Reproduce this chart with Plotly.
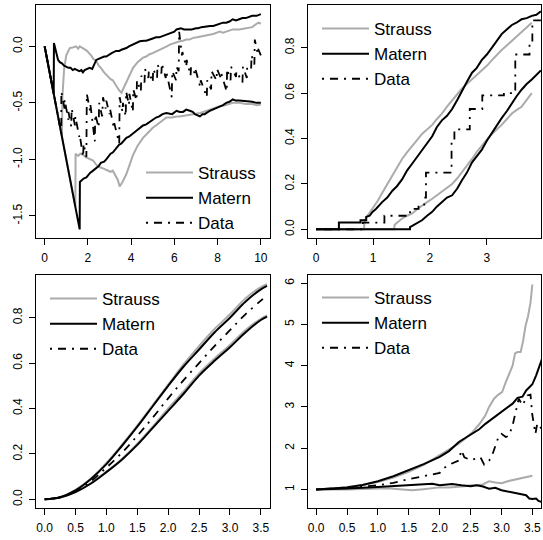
import plotly.graph_objects as go

# ---------------- data ----------------
# Panel 1 (top-left): L(r) - r
tl_mat_hi_x = [0, 0.42, 0.43, 0.50, 0.55, 0.62, 0.70, 0.80, 0.90, 1.0, 1.1, 1.2, 1.3, 1.39, 1.5, 1.6, 1.7, 1.77, 1.85, 1.95, 2.08, 2.2, 2.3, 2.39, 2.5, 2.6, 2.75, 2.85, 3.0, 3.1, 3.3, 3.45, 3.55, 3.78, 3.9, 4.1, 4.25, 4.4, 4.6, 4.7, 5.0, 5.15, 5.3, 5.45, 5.6, 5.85, 6.0, 6.1, 6.3, 6.45, 6.56, 6.8, 7.0, 7.1, 7.25, 7.5, 7.65, 7.8, 8.1, 8.25, 8.4, 8.55, 8.7, 8.85, 9.0, 9.15, 9.3, 9.45, 9.6, 9.8, 9.9, 10]
tl_mat_hi_y = [0, -0.42, 0.03, -0.03, -0.06, -0.12, -0.14, -0.15, -0.17, -0.18, -0.19, -0.19, -0.21, -0.2, -0.21, -0.22, -0.21, -0.23, -0.21, -0.2, -0.19, -0.2, -0.16, -0.12, -0.11, -0.1, -0.09, -0.09, -0.07, -0.06, -0.04, -0.04, -0.03, -0.015, 0.0, 0.02, 0.03, 0.045, 0.05, 0.05, 0.07, 0.08, 0.08, 0.09, 0.1, 0.12, 0.13, 0.15, 0.16, 0.15, 0.15, 0.15, 0.16, 0.16, 0.17, 0.18, 0.18, 0.18, 0.2, 0.21, 0.21, 0.22, 0.24, 0.23, 0.24, 0.25, 0.25, 0.26, 0.27, 0.27, 0.28, 0.285]

tl_mat_lo_x = [0, 1.62, 1.63, 1.7, 1.8, 1.93, 2.0, 2.1, 2.24, 2.4, 2.5, 2.6, 2.75, 2.85, 3.05, 3.15, 3.3, 3.45, 3.55, 3.78, 3.9, 4.1, 4.25, 4.4, 4.55, 4.7, 5.0, 5.15, 5.3, 5.45, 5.63, 5.8, 5.9, 6.1, 6.25, 6.4, 6.55, 6.71, 6.85, 6.95, 7.18, 7.3, 7.4, 7.64, 7.9, 8.1, 8.25, 8.4, 8.55, 8.7, 8.85, 9.0, 9.3, 9.45, 9.6, 9.8, 10]
tl_mat_lo_y = [0, -1.62, -1.2, -1.19, -1.17, -1.16, -1.14, -1.12, -1.1, -1.08, -1.06, -1.03, -1.02, -1.0, -0.95, -0.94, -0.9, -0.87, -0.86, -0.81, -0.8, -0.77, -0.74, -0.72, -0.7, -0.69, -0.65, -0.63, -0.62, -0.6, -0.59, -0.6, -0.6, -0.57, -0.58, -0.58, -0.56, -0.57, -0.58, -0.6, -0.62, -0.6, -0.6, -0.57, -0.55, -0.53, -0.52, -0.5, -0.49, -0.47, -0.48, -0.48, -0.485, -0.49, -0.49, -0.5, -0.5]

tl_str_hi_x = [0, 0.8, 0.82, 0.86, 0.9, 1.0, 1.08, 1.16, 1.3, 1.45, 1.55, 1.62, 1.8, 1.96, 2.05, 2.15, 2.25, 2.39, 2.5, 2.6, 2.75, 2.85, 3.05, 3.15, 3.3, 3.45, 3.55, 3.65, 3.78, 3.95, 4.09, 4.3, 4.55, 4.7, 4.85, 5.0, 5.17, 5.35, 5.5, 5.65, 5.79, 6.0, 6.25, 6.4, 6.55, 6.7, 6.87, 7.05, 7.2, 7.35, 7.5, 7.8, 8.1, 8.25, 8.4, 8.55, 8.7, 9.0, 9.3, 9.45, 9.6, 9.8, 9.9, 10]
tl_str_hi_y = [0, -0.8, -0.45, -0.3, -0.2, -0.08, -0.04, -0.015, -0.01, 0.0, -0.02, 0.0, -0.02, -0.04, -0.06, -0.08, -0.11, -0.13, -0.17, -0.19, -0.23, -0.25, -0.29, -0.3, -0.35, -0.39, -0.41, -0.37, -0.31, -0.24, -0.19, -0.14, -0.1, -0.09, -0.07, -0.06, -0.045, -0.03, -0.02, 0.0, 0.015, 0.03, 0.045, 0.05, 0.06, 0.06, 0.075, 0.08, 0.085, 0.09, 0.1, 0.11, 0.13, 0.12, 0.13, 0.14, 0.15, 0.15, 0.16, 0.16, 0.17, 0.2, 0.21, 0.2]

tl_str_lo_x = [0, 1.42, 1.43, 1.55, 1.65, 1.77, 1.9, 2.0, 2.1, 2.24, 2.4, 2.55, 2.7, 2.85, 2.95, 3.05, 3.15, 3.24, 3.38, 3.47, 3.6, 3.78, 3.95, 4.09, 4.3, 4.55, 4.8, 5.0, 5.15, 5.3, 5.45, 5.63, 5.9, 6.1, 6.25, 6.55, 6.87, 7.2, 7.5, 7.8, 8.1, 8.4, 8.7, 9.0, 9.3, 9.6, 9.8, 10]
tl_str_lo_y = [0, -1.42, -0.95, -0.97, -0.95, -0.96, -0.98, -0.99, -1.0, -1.01, -1.05, -1.07, -1.08, -1.09, -1.1, -1.11, -1.1, -1.13, -1.18, -1.24, -1.2, -1.13, -1.03, -0.96, -0.88, -0.81, -0.76, -0.72, -0.7, -0.68, -0.66, -0.63, -0.63, -0.62, -0.62, -0.61, -0.6, -0.59, -0.57, -0.55, -0.53, -0.52, -0.5, -0.5, -0.51, -0.51, -0.52, -0.515]

tl_dat_x = [0, 0.77, 0.77, 0.92, 0.92, 1.10, 1.10, 1.23, 1.25, 1.40, 1.42, 1.60, 1.62, 1.78, 1.80, 1.93, 1.95, 2.10, 2.12, 2.32, 2.34, 2.50, 2.52, 2.66, 2.70, 2.82, 2.85, 3.00, 3.02, 3.20, 3.22, 3.45, 3.47, 3.60, 3.62, 3.75, 3.77, 3.90, 3.92, 4.08, 4.10, 4.25, 4.27, 4.45, 4.47, 4.62, 4.64, 4.80, 4.82, 5.00, 5.02, 5.20, 5.22, 5.40, 5.42, 5.60, 5.62, 5.88, 5.90, 6.08, 6.10, 6.20, 6.22, 6.35, 6.37, 6.55, 6.57, 6.75, 6.77, 6.95, 6.97, 7.20, 7.22, 7.50, 7.52, 7.70, 7.72, 7.95, 7.97, 8.15, 8.17, 8.42, 8.44, 8.60, 8.62, 8.85, 8.87, 9.15, 9.17, 9.35, 9.37, 9.55, 9.57, 9.70, 9.72, 9.85, 9.87, 10.0]
tl_dat_y = [0, -0.77, -0.40, -0.55, -0.47, -0.65, -0.58, -0.71, -0.55, -0.70, -0.62, -0.80, -0.78, -0.98, -0.86, -0.98, -0.42, -0.57, -0.52, -0.84, -0.60, -0.72, -0.50, -0.62, -0.45, -0.55, -0.48, -0.60, -0.55, -0.72, -0.68, -0.86, -0.45, -0.58, -0.50, -0.62, -0.40, -0.52, -0.42, -0.58, -0.38, -0.48, -0.30, -0.40, -0.26, -0.32, -0.20, -0.28, -0.22, -0.32, -0.20, -0.28, -0.16, -0.24, -0.15, -0.28, -0.22, -0.45, -0.22, -0.30, -0.18, -0.22, 0.13, -0.08, -0.05, -0.18, -0.12, -0.26, -0.18, -0.24, -0.20, -0.36, -0.30, -0.45, -0.30, -0.38, -0.22, -0.30, -0.20, -0.28, -0.24, -0.40, -0.20, -0.30, -0.18, -0.27, -0.22, -0.32, -0.18, -0.28, -0.18, -0.20, -0.08, -0.16, 0.06, -0.06, -0.02, -0.08]

# Panel 2 (top-right): G function
tr_mat_hi_x = [0, 0.40, 0.40, 0.78, 0.78, 0.88, 0.88, 0.94, 0.99, 1.05, 1.16, 1.25, 1.34, 1.42, 1.51, 1.60, 1.69, 1.78, 1.86, 1.95, 2.04, 2.12, 2.21, 2.30, 2.39, 2.48, 2.56, 2.65, 2.74, 2.82, 2.91, 3.0, 3.09, 3.18, 3.26, 3.35, 3.44, 3.52, 3.61, 3.70, 3.79, 3.87, 3.95]
tr_mat_hi_y = [0, 0.0, 0.03, 0.03, 0.04, 0.04, 0.055, 0.06, 0.077, 0.09, 0.12, 0.14, 0.17, 0.19, 0.22, 0.26, 0.29, 0.32, 0.345, 0.38, 0.41, 0.45, 0.48, 0.50, 0.53, 0.57, 0.61, 0.65, 0.69, 0.71, 0.745, 0.77, 0.80, 0.83, 0.86, 0.88, 0.90, 0.91, 0.925, 0.93, 0.94, 0.945, 0.96]
tr_mat_lo_x = [0, 1.65, 1.65, 1.69, 1.78, 1.86, 1.95, 2.04, 2.12, 2.21, 2.30, 2.39, 2.48, 2.56, 2.65, 2.74, 2.82, 2.91, 3.0, 3.09, 3.18, 3.26, 3.35, 3.44, 3.52, 3.61, 3.70, 3.79, 3.87, 3.95]
tr_mat_lo_y = [0, 0.0, 0.01, 0.015, 0.03, 0.04, 0.06, 0.077, 0.10, 0.12, 0.14, 0.15, 0.18, 0.215, 0.25, 0.295, 0.32, 0.35, 0.39, 0.425, 0.46, 0.49, 0.52, 0.555, 0.585, 0.615, 0.64, 0.66, 0.68, 0.70]
tr_str_hi_x = [0, 0.84, 0.85, 0.87, 0.93, 0.99, 1.08, 1.16, 1.25, 1.34, 1.42, 1.51, 1.60, 1.69, 1.78, 1.86, 1.95, 2.04, 2.12, 2.21, 2.30, 2.39, 2.48, 2.56, 2.65, 2.74, 2.82, 2.91, 3.0, 3.09, 3.18, 3.26, 3.35, 3.44, 3.52, 3.61, 3.70, 3.79]
tr_str_hi_y = [0, 0.0, 0.03, 0.048, 0.07, 0.09, 0.125, 0.16, 0.20, 0.24, 0.275, 0.31, 0.34, 0.37, 0.395, 0.42, 0.44, 0.46, 0.485, 0.51, 0.54, 0.57, 0.595, 0.62, 0.64, 0.66, 0.68, 0.70, 0.72, 0.745, 0.77, 0.79, 0.81, 0.83, 0.85, 0.87, 0.89, 0.91]
tr_str_lo_x = [0, 1.37, 1.38, 1.45, 1.51, 1.60, 1.69, 1.78, 1.86, 1.95, 2.04, 2.12, 2.21, 2.30, 2.39, 2.48, 2.56, 2.65, 2.74, 2.82, 2.91, 3.0, 3.09, 3.18, 3.26, 3.35, 3.44, 3.52, 3.61, 3.70, 3.79]
tr_str_lo_y = [0, 0.0, 0.02, 0.035, 0.048, 0.06, 0.07, 0.09, 0.106, 0.12, 0.135, 0.15, 0.164, 0.18, 0.20, 0.225, 0.25, 0.28, 0.31, 0.34, 0.37, 0.395, 0.42, 0.44, 0.46, 0.485, 0.51, 0.525, 0.54, 0.57, 0.60]
tr_dat_x = [0, 0.82, 1.20, 1.65, 1.80, 1.90, 1.93, 2.38, 2.43, 2.70, 2.92, 3.30, 3.50, 3.75, 3.80, 3.95]
tr_dat_y = [0, 0.03, 0.06, 0.09, 0.10, 0.14, 0.25, 0.39, 0.44, 0.53, 0.59, 0.60, 0.77, 0.82, 0.92, 0.92]

# Panel 3 (bottom-left)
bl_x = [0.0, 0.25, 0.5, 0.75, 1.0, 1.25, 1.5, 1.75, 2.0, 2.25, 2.5, 2.75, 3.0, 3.25, 3.5, 3.6]
bl_mat_hi = [0.0, 0.01, 0.04, 0.09, 0.155, 0.235, 0.32, 0.41, 0.50, 0.585, 0.66, 0.735, 0.80, 0.87, 0.925, 0.94]
bl_mat_lo = [0.0, 0.008, 0.032, 0.07, 0.12, 0.175, 0.24, 0.315, 0.39, 0.465, 0.545, 0.61, 0.67, 0.735, 0.79, 0.805]
bl_str_hi = [0.0, 0.01, 0.042, 0.092, 0.16, 0.24, 0.325, 0.415, 0.505, 0.595, 0.675, 0.75, 0.815, 0.885, 0.935, 0.948]
bl_str_lo = [0.0, 0.008, 0.033, 0.072, 0.122, 0.178, 0.245, 0.32, 0.40, 0.475, 0.555, 0.62, 0.68, 0.745, 0.795, 0.81]
bl_dat = [0.0, 0.009, 0.036, 0.08, 0.14, 0.205, 0.28, 0.36, 0.445, 0.525, 0.60, 0.675, 0.745, 0.815, 0.875, 0.90]

# Panel 4 (bottom-right)
br_str_hi_x = [0.0, 0.25, 0.5, 0.75, 1.0, 1.25, 1.5, 1.75, 2.0, 2.15, 2.31, 2.42, 2.53, 2.64, 2.74, 2.8, 2.88, 2.95, 3.01, 3.07, 3.12, 3.18, 3.22, 3.26, 3.31, 3.35, 3.39, 3.43, 3.47, 3.5]
br_str_hi_y = [1.0, 1.02, 1.06, 1.11, 1.18, 1.29, 1.43, 1.6, 1.83, 1.96, 2.11, 2.24, 2.39, 2.58, 2.8, 3.0, 3.2, 3.3, 3.36, 3.6, 3.8, 4.0, 4.3, 4.33, 4.33, 4.6, 4.97, 5.2, 5.53, 5.97]
br_str_lo_x = [0.0, 0.5, 1.0, 1.2, 1.4, 1.55, 1.7, 1.8, 2.0, 2.15, 2.3, 2.4, 2.5, 2.6, 2.7, 2.8, 2.9, 3.0, 3.1, 3.2, 3.35, 3.5]
br_str_lo_y = [1.0, 1.0, 1.02, 1.02, 1.0, 0.98, 1.0, 1.02, 1.05, 1.05, 1.06, 1.08, 1.1, 1.1, 1.12, 1.2, 1.17, 1.15, 1.2, 1.23, 1.28, 1.33]
br_mat_hi_x = [0.0, 0.25, 0.5, 0.75, 1.0, 1.25, 1.5, 1.75, 2.0, 2.15, 2.31, 2.42, 2.53, 2.64, 2.74, 2.88, 3.01, 3.1, 3.18, 3.26, 3.34, 3.4, 3.45, 3.5, 3.56, 3.6, 3.66]
br_mat_hi_y = [1.0, 1.02, 1.05, 1.11, 1.2, 1.32, 1.47, 1.62, 1.79, 1.93, 2.15, 2.25, 2.35, 2.46, 2.59, 2.74, 2.88, 2.98, 3.08, 3.22, 3.25, 3.4, 3.48, 3.55, 3.76, 3.92, 4.18]
br_mat_lo_x = [0.0, 0.5, 1.0, 1.5, 1.88, 2.0, 2.2, 2.35, 2.5, 2.6, 2.7, 2.8, 2.9, 3.0, 3.1, 3.2, 3.3, 3.4, 3.45, 3.5, 3.56, 3.6, 3.66]
br_mat_lo_y = [1.0, 1.02, 1.06, 1.1, 1.14, 1.1, 1.13, 1.1, 1.08, 1.1, 1.07, 1.02, 1.04, 0.98, 0.95, 0.92, 0.88, 0.86, 0.78, 0.77, 0.78, 0.72, 0.69]
br_dat_x = [0.0, 0.5, 1.0, 1.25, 1.5, 1.75, 1.9, 2.0, 2.05, 2.15, 2.31, 2.35, 2.4, 2.5, 2.6, 2.66, 2.72, 2.8, 2.85, 2.96, 3.0, 3.07, 3.12, 3.18, 3.23, 3.28, 3.34, 3.42, 3.47, 3.5, 3.55, 3.58, 3.66]
br_dat_y = [1.0, 1.04, 1.1, 1.16, 1.25, 1.33, 1.36, 1.4, 1.5, 1.6, 1.7, 1.95, 1.78, 1.71, 1.75, 1.78, 1.6, 1.7, 1.83, 2.31, 2.35, 2.27, 2.3, 2.55, 2.88, 3.2, 3.04, 3.28, 3.3, 2.8, 2.35, 2.6, 2.45]

# tick labels
tl_xticks = [0, 2, 4, 6, 8, 10]
tl_yticks = [-1.5, -1.0, -0.5, 0.0]
tr_xticks = [0, 1, 2, 3]
tr_yticks = [0.0, 0.2, 0.4, 0.6, 0.8]
bl_xticks = [0.0, 0.5, 1.0, 1.5, 2.0, 2.5, 3.0, 3.5]
bl_yticks = [0.0, 0.2, 0.4, 0.6, 0.8]
br_xticks = [0.0, 0.5, 1.0, 1.5, 2.0, 2.5, 3.0, 3.5]
br_yticks = [1, 2, 3, 4, 5, 6]

# ---------------- styles ----------------
GRAY = "#ababab"
BLACK = "#000000"
DASHDOT = "2px,6px,8px,6px"
FONT = "Liberation Sans, Arial, Helvetica, sans-serif"

fig = go.Figure()


def add_panel(xa, ya, leg, strauss, matern, data, dshape="linear", eshape="linear"):
    first = True
    for x, y in strauss:
        fig.add_trace(go.Scatter(x=x, y=y, mode="lines", name="Strauss", line=dict(color=GRAY, width=2, shape=eshape),
                                 xaxis=xa, yaxis=ya, legend=leg, showlegend=first, legendgroup=leg + "s"))
        first = False
    first = True
    for x, y in matern:
        fig.add_trace(go.Scatter(x=x, y=y, mode="lines", name="Matern", line=dict(color=BLACK, width=2, shape=eshape),
                                 xaxis=xa, yaxis=ya, legend=leg, showlegend=first, legendgroup=leg + "m"))
        first = False
    x, y = data
    fig.add_trace(go.Scatter(x=x, y=y, mode="lines", name="Data", line=dict(color=BLACK, width=1.8, dash=DASHDOT, shape=dshape),
                             xaxis=xa, yaxis=ya, legend=leg, showlegend=True, legendgroup=leg + "d"))


add_panel("x", "y", "legend",
          [(tl_str_hi_x, tl_str_hi_y), (tl_str_lo_x, tl_str_lo_y)],
          [(tl_mat_hi_x, tl_mat_hi_y), (tl_mat_lo_x, tl_mat_lo_y)],
          (tl_dat_x, tl_dat_y))
add_panel("x2", "y2", "legend2",
          [(tr_str_hi_x, tr_str_hi_y), (tr_str_lo_x, tr_str_lo_y)],
          [(tr_mat_hi_x, tr_mat_hi_y), (tr_mat_lo_x, tr_mat_lo_y)],
          (tr_dat_x, tr_dat_y), dshape="hv")
add_panel("x3", "y3", "legend3",
          [(bl_x, bl_str_hi), (bl_x, bl_str_lo)],
          [(bl_x, bl_mat_hi), (bl_x, bl_mat_lo)],
          (bl_x, bl_dat), dshape="spline", eshape="spline")
add_panel("x4", "y4", "legend4",
          [(br_str_hi_x, br_str_hi_y), (br_str_lo_x, br_str_lo_y)],
          [(br_mat_hi_x, br_mat_hi_y), (br_mat_lo_x, br_mat_lo_y)],
          (br_dat_x, br_dat_y))

W, H = 543, 540


def px_x(p):
    return p / W


def px_y(p):
    return 1 - p / H


colL = [px_x(36), px_x(269.5)]
colR = [px_x(307.5), px_x(541)]
rowT = [px_y(238), px_y(5)]
rowB = [px_y(508), px_y(275)]


def xax(domain, rng, ticks, anchor):
    return dict(domain=domain, range=rng, tickvals=ticks,
                ticktext=[("%g" % t) if isinstance(t, int) else ("%.1f" % t) for t in ticks],
                anchor=anchor, showline=True, mirror=True, linecolor="black", linewidth=1,
                ticks="outside", ticklen=6, tickwidth=1, tickcolor="black", showgrid=False, zeroline=False,
                tickfont=dict(family=FONT, size=12, color="black"), ticklabelstandoff=3)


def yax(domain, rng, ticks, anchor):
    d = xax(domain, rng, ticks, anchor)
    d["tickangle"] = -90
    d["ticklabelstandoff"] = 2
    return d


legfont = dict(family=FONT, size=17, color="black")


def leg(xp, yp):
    return dict(x=px_x(xp), y=px_y(yp), xanchor="left", yanchor="top", bgcolor="rgba(0,0,0,0)",
                font=legfont, traceorder="normal", tracegroupgap=0, itemwidth=47)


fig.update_layout(
    width=W, height=H, margin=dict(l=0, r=0, t=0, b=0),
    paper_bgcolor="white", plot_bgcolor="white",
    font=dict(family=FONT, color="black"),
    xaxis=xax(colL, [-0.4, 10.4], tl_xticks, "y"),
    yaxis=yax(rowT, [-1.696, 0.366], tl_yticks, "x"),
    xaxis2=xax(colR, [-0.152, 3.952], tr_xticks, "y2"),
    yaxis2=yax(rowT, [-0.038, 0.988], tr_yticks, "x2"),
    xaxis3=xax(colL, [-0.14, 3.64], bl_xticks, "y3"),
    yaxis3=yax(rowB, [-0.038, 0.988], bl_yticks, "x3"),
    xaxis4=xax(colR, [-0.14, 3.64], br_xticks, "y4"),
    yaxis4=yax(rowB, [0.55, 6.2], br_yticks, "x4"),
    legend=leg(141, 155),
    legend2=leg(317, 11),
    legend3=leg(45, 281),
    legend4=leg(317, 280),
)

fig.write_html("out.html", config={"displayModeBar": False},
               post_script="document.body.style.margin='0';")
